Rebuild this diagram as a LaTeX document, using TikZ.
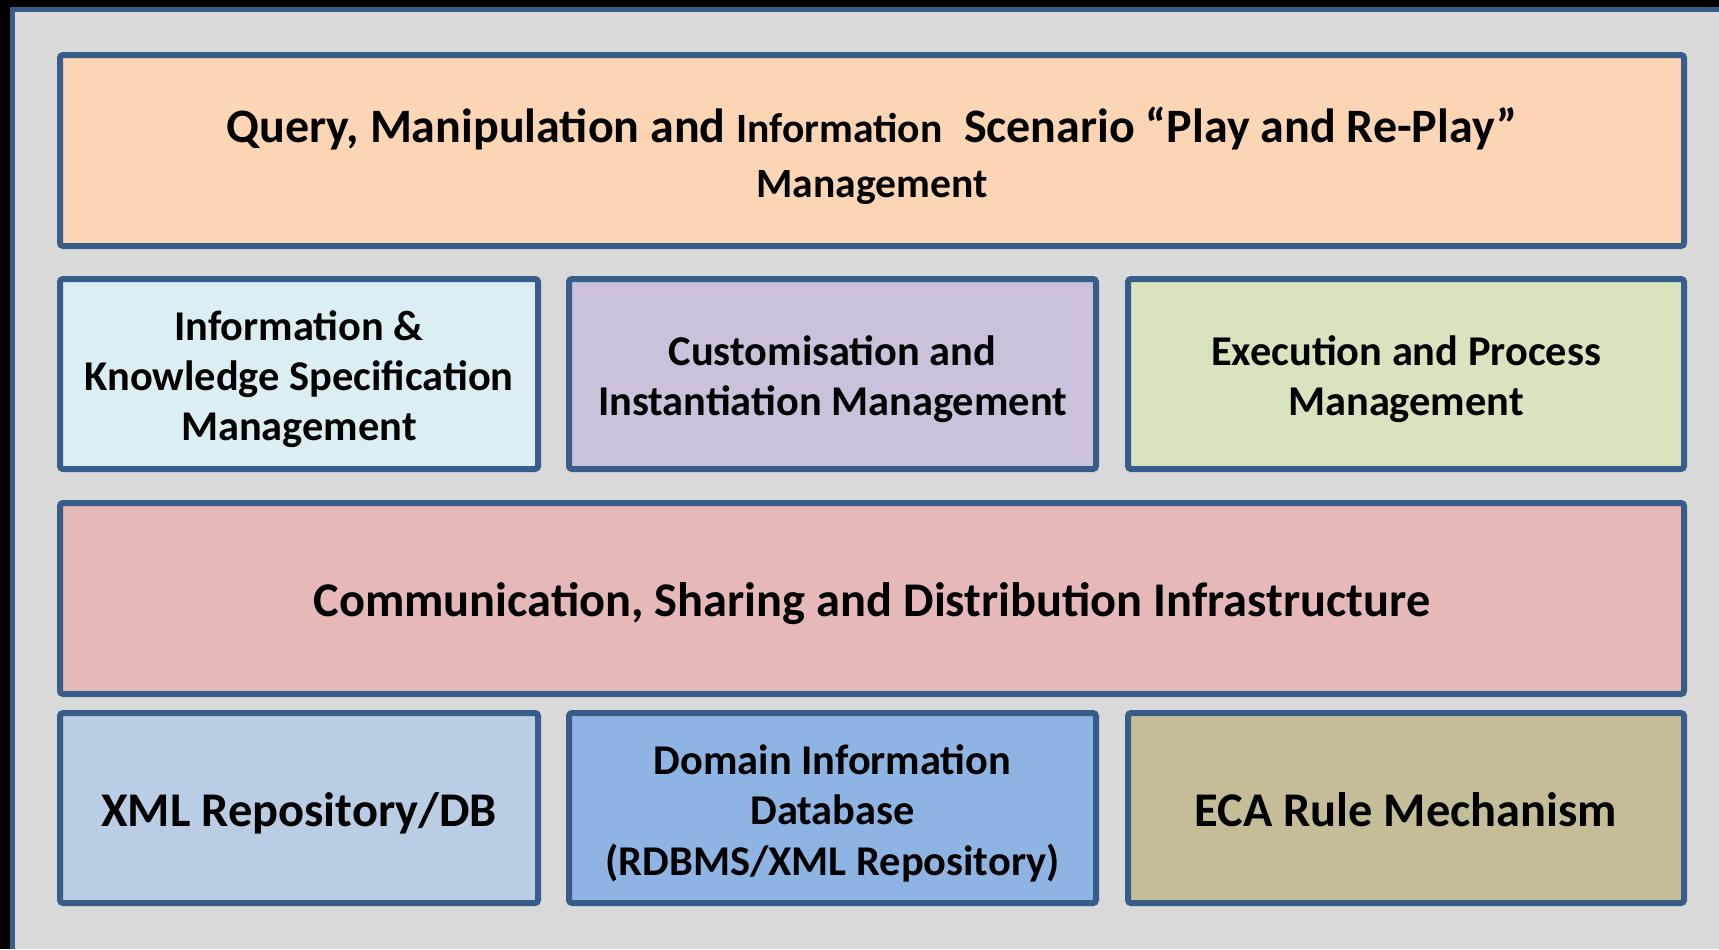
\documentclass[tikz,border=0pt]{standalone}
\usepackage{fontspec}
\setmainfont{Carlito}
\definecolor{panelgrey}{HTML}{D9D9D9}
\definecolor{edgeblue}{HTML}{385D8A}
\definecolor{cPeach}{HTML}{FCD5B5}
\definecolor{cLightBlue}{HTML}{DBEEF4}
\definecolor{cLavender}{HTML}{CCC1DA}
\definecolor{cGreen}{HTML}{D7E4BD}
\definecolor{cPink}{HTML}{E6B9B8}
\definecolor{cXml}{HTML}{B9CDE5}
\definecolor{cDomain}{HTML}{8EB4E3}
\definecolor{cEca}{HTML}{C4BD97}
\tikzset{
  layerbox/.style={draw=edgeblue, line width=3pt, rounded corners=1.5pt,
    rectangle, inner sep=0pt, outer sep=0pt},
  layertext/.style={align=center, inner sep=0pt, text=black, yshift=-2.6pt,
    font=\fontsize{21.2}{25.2}\selectfont\bfseries},
  bigtext/.style={layertext, font=\fontsize{24.2}{28}\selectfont\bfseries},
}
\begin{document}
\begin{tikzpicture}[x=0.5pt,y=-0.5pt]
\useasboundingbox (0,0) rectangle (1719,949);
\fill[black] (0,0) rectangle (1719,949);
\fill[panelgrey] (10,7) rectangle (1719,949);
\draw[edgeblue, line width=2.5pt] (12.5,949) -- (12.5,9.5) -- (1719,9.5);
% boxes
\node[layerbox, fill=cPeach, minimum width=812pt, minimum height=95.5pt] (query) at (872,150.5) {};
\node[layerbox, fill=cLightBlue, minimum width=239pt, minimum height=95pt] (infoknow) at (299,374) {};
\node[layerbox, fill=cLavender, minimum width=263.5pt, minimum height=95pt] (custom) at (832.5,374) {};
\node[layerbox, fill=cGreen, minimum width=278pt, minimum height=95pt] (exec) at (1406,374) {};
\node[layerbox, fill=cPink, minimum width=812pt, minimum height=95.5pt] (comm) at (872,598.5) {};
\node[layerbox, fill=cXml, minimum width=239pt, minimum height=95pt] (xmlrepo) at (299,808) {};
\node[layerbox, fill=cDomain, minimum width=263.5pt, minimum height=95pt] (domain) at (832.5,808) {};
\node[layerbox, fill=cEca, minimum width=278pt, minimum height=95pt] (eca) at (1406,808) {};
% texts
\node[layertext] (query-t) at (query.center)
  {{\fontsize{24}{27.5}\selectfont Query, Manipulation and {\fontsize{20.8}{27.5}\selectfont Information}\ \ Scenario “Play and Re-Play”}\\[2.5pt] {\fontsize{20.8}{25}\selectfont Management}};
\node[layertext] (infoknow-t) at (infoknow.center)
  {Information \&\\ Knowledge Specification\\ Management};
\node[layertext] (custom-t) at (custom.center)
  {Customisation and\\ Instantiation Management};
\node[layertext] (exec-t) at (exec.center)
  {Execution and Process\\ Management};
\node[bigtext] (comm-t) at (comm.center)
  {Communication, Sharing and Distribution Infrastructure};
\node[bigtext] (xmlrepo-t) at (xmlrepo.center)
  {XML Repository/DB};
\node[layertext] (domain-t) at (domain.center)
  {Domain Information\\ Database\\ (RDBMS/XML Repository)};
\node[bigtext] (eca-t) at (eca.center)
  {ECA Rule Mechanism\vphantom{py}};
\end{tikzpicture}
\end{document}
